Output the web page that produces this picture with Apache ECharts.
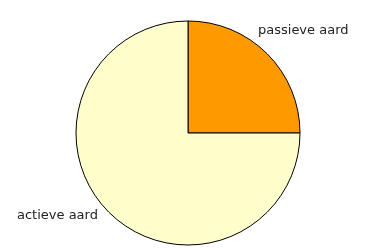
<!DOCTYPE html>
<html><head><meta charset="utf-8">
<script src="https://cdn.jsdelivr.net/npm/echarts@6/dist/echarts.min.js"></script>
<style>html,body{margin:0;padding:0;background:#fff}#c{width:366px;height:248px}</style>
</head><body><div id="c"></div>
<script>
var categories = ['passieve aard', 'actieve aard'];
var values = [25, 75];
var colors = ['#FF9900', '#FFFFCC'];
var labelPos = [[258, 31], [17, 216]];
var chart = echarts.init(document.getElementById('c'));
chart.setOption({
  animation: false,
  series: [{
    type: 'pie',
    center: [188, 133],
    radius: 112,
    startAngle: 90,
    clockwise: true,
    data: categories.map(function (n, i) {
      return { name: n, value: values[i], itemStyle: { color: colors[i] } };
    }),
    itemStyle: { borderColor: '#000', borderWidth: 1 },
    label: { show: true, position: 'outside', fontFamily: 'DejaVu Sans', fontSize: 13, color: '#222', formatter: '{b}', overflow: 'none', width: 200 },
    labelLine: { show: false },
    labelLayout: function (p) {
      var pos = labelPos[p.dataIndex];
      return { x: pos[0], y: pos[1], align: 'left', verticalAlign: 'middle' };
    },
    emphasis: { disabled: true }
  }]
});
</script></body></html>
